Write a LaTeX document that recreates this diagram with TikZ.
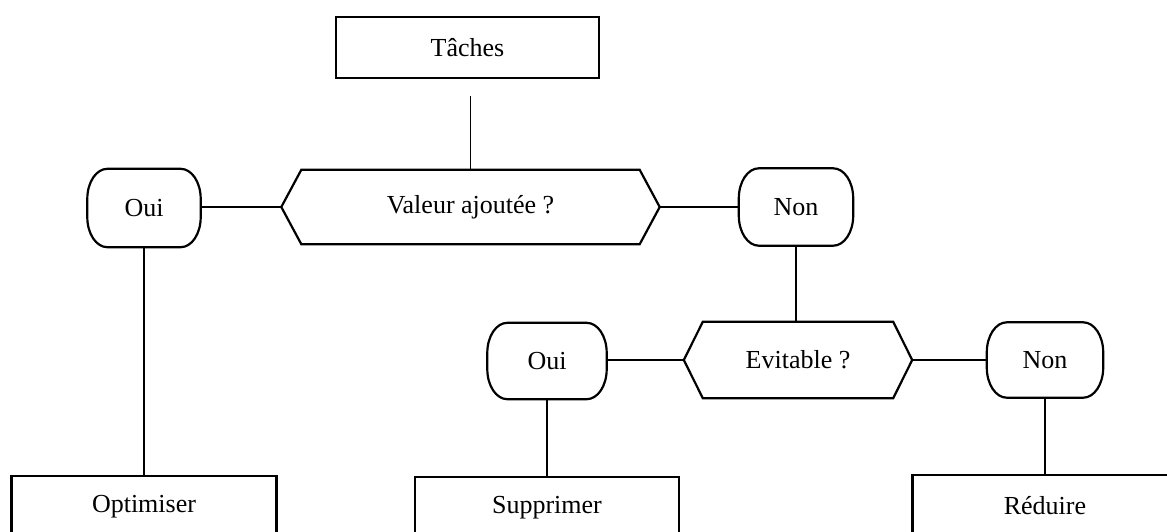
\documentclass[tikz,border=0pt]{standalone}
\usepackage{fontspec}
\setmainfont{Liberation Serif}
% outline of an answer node: straight top and bottom, elliptic ends
\newcommand\termoutline[1]{%
  \draw[line width=2.2pt]
    ([xshift=20pt]#1.north west) -- ([xshift=-20pt]#1.north east)
    arc[start angle=90, end angle=0, x radius=20pt, y radius=30pt]
    -- ([yshift=30pt]#1.south east)
    arc[start angle=0, end angle=-90, x radius=20pt, y radius=30pt]
    -- ([xshift=20pt]#1.south west)
    arc[start angle=-90, end angle=-180, x radius=20pt, y radius=30pt]
    -- ([yshift=-30pt]#1.north west)
    arc[start angle=180, end angle=90, x radius=20pt, y radius=30pt] -- cycle;}
% outline of a question node: hexagon with pointed ends
\newcommand\hexoutline[2]{%
  \draw[line width=2.2pt, line join=miter]
    ([xshift=#2]#1.north west) -- ([xshift=-#2]#1.north east) -- (#1.east)
    -- ([xshift=-#2]#1.south east) -- ([xshift=#2]#1.south west) -- (#1.west) -- cycle;}
\begin{document}
\begin{tikzpicture}[x=1pt,y=-1pt,
  every node/.style={font=\fontsize{26}{30}\selectfont, inner sep=0pt},
  taskbox/.style={draw, line width=2.2pt, minimum width=264pt, minimum height=61pt},
  answer/.style={draw=none},
  hexspace/.style={draw=none},
  link/.style={line width=1.1pt}]
  \useasboundingbox (0,0) rectangle (1167,531);
  \clip (0,0) rectangle (1167,531);

  % top task
  \node[taskbox, minimum width=263pt] (taches) at (467.5,47.5) {Tâches};
  \coordinate (tstub) at (470.5,96);

  % first question
  \node[hexspace, minimum width=378pt, minimum height=74pt] (qa) at (470.5,207) {Valeur ajoutée ?};
  \hexoutline{qa}{20pt}

  \node[answer, minimum width=113pt, minimum height=78pt] (ouiA) at (144,208) {Oui};
  \termoutline{ouiA}
  \node[answer, minimum width=114pt, minimum height=77pt] (nonA) at (796,207) {Non};
  \termoutline{nonA}

  % second question
  \node[hexspace, minimum width=228pt, minimum height=76pt] (qb) at (798,360) {Evitable ?};
  \hexoutline{qb}{19pt}

  \node[answer, minimum width=119pt, minimum height=76pt] (ouiB) at (547,361) {Oui};
  \termoutline{ouiB}
  \node[answer, minimum width=116pt, minimum height=75pt] (nonB) at (1045,360) {Non};
  \termoutline{nonB}

  % outcomes
  \node[taskbox, minimum width=265pt] (optim) at (144,506.5) {Optimiser};
  \node[taskbox] (suppr) at (547,507.5) {Supprimer};
  \node[taskbox, minimum width=265pt] (reduc) at (1045,505.5) {Réduire};

  % connectors
  \draw[link] (tstub) -- (tstub |- qa.north);
  \draw[link] (ouiA.east |- qa.west) -- (qa.west);
  \draw[link] (qa.east) -- (qa.east -| nonA.west);
  \draw[link] (ouiA.south) -- (optim.north);
  \draw[link] (nonA.south) -- (nonA.south |- qb.north);
  \draw[link] (ouiB.east |- qb.west) -- (qb.west);
  \draw[link] (qb.east) -- (qb.east -| nonB.west);
  \draw[link] (ouiB.south) -- (suppr.north);
  \draw[link] (nonB.south) -- (reduc.north);
\end{tikzpicture}
\end{document}
